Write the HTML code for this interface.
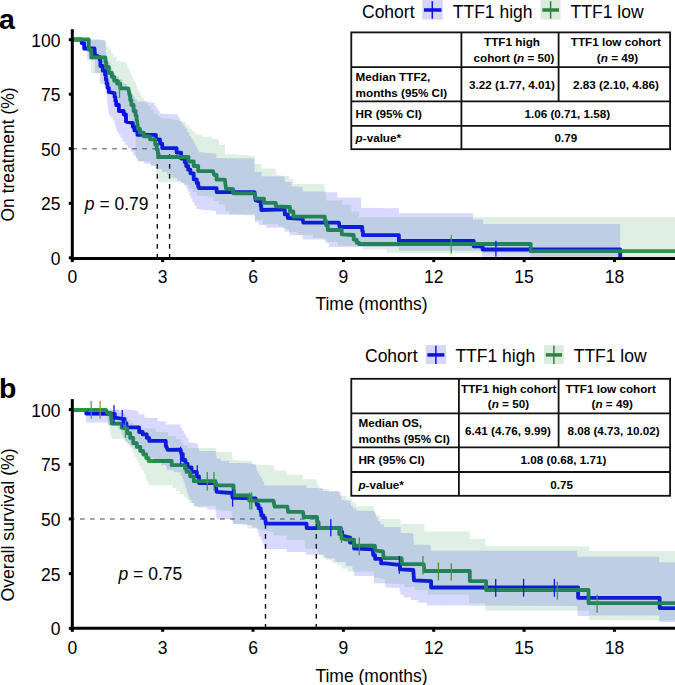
<!DOCTYPE html><html><head><meta charset="utf-8"><style>html,body{margin:0;padding:0;width:675px;height:685px;overflow:hidden;background:#fff}</style></head><body><svg width="675" height="685" viewBox="0 0 675 685" style="position:absolute;left:0;top:0" font-family="&quot;Liberation Sans&quot;, sans-serif">
<rect width="675" height="685" fill="#fff"/>
<line x1="72" y1="148.7" x2="169.6" y2="148.7" stroke="#888" stroke-width="1.4" stroke-dasharray="4.7,5.3" stroke-dashoffset="-0.2"/>
<line x1="157.3" y1="148.7" x2="157.3" y2="257.8" stroke="#111" stroke-width="1.4" stroke-dasharray="4.6,5.4" stroke-dashoffset="4.6"/>
<line x1="169.6" y1="148.7" x2="169.6" y2="257.8" stroke="#111" stroke-width="1.4" stroke-dasharray="4.6,5.4" stroke-dashoffset="4.6"/>
<polyline points="72.0,39.5 81.0,39.5 81.7,39.5 81.7,43.1 82.4,43.1 84.2,43.1 84.2,48.5 86.0,48.5 94.5,48.5 95.0,55.0 99.8,57.0 99.8,60.2 100.4,60.2 100.4,66.0 101.0,66.0 102.8,66.0 102.8,70.7 104.7,70.7 105.1,70.7 105.1,75.0 105.8,75.0 105.8,79.4 106.6,79.4 106.6,83.7 107.0,83.7 107.6,83.7 107.6,87.8 108.9,87.8 108.9,92.0 109.5,92.0 114.2,93.2 114.6,93.2 114.6,97.1 115.4,97.1 115.4,101.1 116.2,101.1 116.2,105.0 116.6,105.0 118.9,105.0 118.9,111.0 121.3,111.0 123.7,111.0 123.7,114.5 126.0,114.5 126.0,121.6 132.2,123.0 132.9,123.0 132.9,126.7 134.4,126.7 134.4,130.4 135.2,130.4 137.4,130.4 137.4,134.8 139.6,134.8 153.0,134.8 155.9,134.8 155.9,139.3 158.9,139.3 160.0,139.3 160.0,143.7 162.2,143.7 162.2,148.1 163.3,148.1 175.2,148.1 176.6,148.1 176.6,152.6 178.1,152.6 181.1,152.6 181.1,158.5 184.0,158.5 184.8,158.5 184.8,162.2 186.2,162.2 186.2,166.0 187.0,166.0 188.1,166.0 188.1,169.7 190.4,169.7 190.4,173.3 191.5,173.3 193.7,173.3 193.7,179.3 195.9,179.3 196.7,179.3 196.7,183.0 198.2,183.0 198.2,186.7 198.9,186.7 198.9,188.1 216.6,188.1 216.6,192.1 254.5,192.1 255.7,200.4 260.4,201.6 260.7,201.6 260.7,205.8 261.3,205.8 261.3,210.0 261.6,210.0 283.3,209.3 284.8,209.3 284.8,214.4 286.3,214.4 287.8,214.4 287.8,218.0 289.3,218.0 302.6,218.9 303.3,222.6 338.9,222.6 339.6,227.0 361.9,227.0 362.2,227.0 362.2,231.1 362.9,231.1 362.9,235.2 363.3,235.2 398.9,235.2 398.9,240.8 473.7,240.8 473.7,246.3 482.6,246.3 482.6,249.5 620.2,249.5 620.2,257.0" fill="none" stroke="#0a0af0" stroke-width="3.8" stroke-linejoin="round"/>
<polyline points="72.0,39.5 88.7,39.5 88.7,49.8 91.3,49.8 91.3,57.4 105.4,57.4 105.4,62.0 106.2,62.0 106.2,67.0 107.0,67.0 108.8,67.0 108.8,73.0 110.7,73.0 111.9,73.0 111.9,76.8 114.2,76.8 114.2,80.7 115.4,80.7 117.2,80.7 117.2,83.7 119.0,83.7 120.2,83.7 120.2,88.4 121.3,88.4 128.4,88.4 129.6,95.5 130.2,95.5 130.2,100.2 131.4,100.2 131.4,105.0 132.0,105.0 133.6,105.0 133.6,111.0 135.2,111.0 135.6,111.0 135.6,115.5 136.6,115.5 136.6,120.0 137.0,120.0 138.1,128.9 140.0,128.9 140.0,132.6 143.7,132.6 143.7,136.3 145.6,136.3 150.0,136.3 150.0,139.3 154.4,139.3 155.2,139.3 155.2,144.4 156.7,144.4 156.7,149.6 157.4,149.6 157.8,149.6 157.8,153.3 158.5,153.3 158.5,157.0 158.9,157.0 187.0,157.0 188.5,157.0 188.5,161.5 190.0,161.5 193.7,161.5 193.7,166.0 197.4,166.0 198.2,166.0 198.2,171.1 198.9,171.1 213.0,171.1 214.2,175.0 216.6,175.0 216.6,179.7 219.0,179.7 224.9,179.7 226.0,188.6 233.2,189.2 233.2,193.3 254.5,193.3 255.7,198.6 264.0,198.6 264.0,202.8 275.8,202.8 276.0,206.3 289.3,207.0 290.0,207.0 290.0,211.5 290.7,211.5 293.4,211.5 293.4,216.7 296.0,216.7 324.0,216.7 324.8,216.7 324.8,221.0 325.5,221.0 326.2,221.0 326.2,225.5 327.8,225.5 327.8,230.0 328.5,230.0 341.0,230.0 341.8,230.0 341.8,234.4 342.6,234.4 353.0,235.0 353.7,235.0 353.7,239.6 354.4,239.6 356.6,239.6 356.6,242.6 358.9,242.6 358.9,244.0 530.7,244.0 530.7,251.2 675.0,251.2" fill="none" stroke="#2a9640" stroke-width="3.8" stroke-linejoin="round"/>
<polygon points="82.0,39.5 100.0,39.8 105.2,40.2 106.2,56.5 106.9,56.5 106.9,59.2 108.2,59.2 108.2,62.0 109.6,62.0 109.6,64.7 110.3,64.7 110.9,64.7 110.9,67.5 112.2,67.5 112.2,70.3 113.5,70.3 113.5,73.1 114.8,73.1 114.8,75.9 115.4,75.9 118.5,75.9 118.5,79.0 121.6,79.0 122.6,83.0 125.7,84.1 127.0,84.1 127.0,87.7 129.5,87.7 129.5,91.2 130.8,91.2 131.6,91.2 131.6,93.8 133.1,93.8 133.1,96.3 133.9,96.3 134.9,96.3 134.9,98.9 137.0,98.9 137.0,101.5 138.0,101.5 146.0,101.6 153.4,102.8 154.6,102.8 154.6,105.7 155.8,105.7 156.6,105.7 156.6,108.3 158.2,108.3 158.2,110.8 159.7,110.8 159.7,113.4 160.5,113.4 177.1,114.6 178.0,114.6 178.0,117.5 179.8,117.5 179.8,120.5 180.7,120.5 181.6,120.5 181.6,123.2 183.3,123.2 183.3,125.8 185.1,125.8 185.1,128.5 186.0,128.5 187.1,128.5 187.1,132.2 189.3,132.2 189.3,135.9 190.4,135.9 191.1,135.9 191.1,138.2 192.6,138.2 192.6,140.4 193.3,140.4 194.1,140.4 194.1,143.4 195.6,143.4 195.6,146.3 196.3,146.3 197.1,146.3 197.1,149.2 198.6,149.2 198.6,152.2 199.3,152.2 215.6,153.7 216.3,153.7 216.3,158.1 217.0,158.1 254.5,158.4 254.5,172.0 261.6,172.0 261.6,176.3 284.8,176.3 284.8,181.9 289.3,181.9 291.5,181.9 291.5,186.3 293.7,186.3 302.6,187.0 302.6,191.5 323.3,191.5 326.3,192.2 337.4,192.2 337.4,197.4 361.0,197.4 361.0,207.8 398.9,208.2 398.9,213.3 473.0,213.3 473.0,219.6 483.0,219.6 483.0,224.0 620.2,224.0 620.2,256.7 482.0,256.7 482.0,250.7 398.9,250.7 398.9,247.0 330.0,247.0 328.9,247.0 328.9,243.3 326.6,243.3 326.6,239.6 325.5,239.6 302.6,239.6 302.6,235.2 289.3,235.2 289.3,231.5 284.8,231.5 284.8,227.8 270.0,227.8 266.2,227.8 266.2,224.9 258.8,224.9 258.8,222.0 255.0,222.0 255.0,214.6 216.0,214.6 216.0,211.0 210.0,210.4 197.4,208.9 196.4,208.9 196.4,205.4 194.4,205.4 194.4,202.0 192.5,202.0 192.5,198.5 191.5,198.5 190.8,198.5 190.8,195.2 189.3,195.2 189.3,191.8 187.8,191.8 187.8,188.5 186.3,188.5 186.3,185.2 185.6,185.2 184.1,185.2 184.1,182.9 181.1,182.9 181.1,180.7 179.6,180.7 177.0,180.7 177.0,177.8 171.9,177.8 171.9,174.8 169.3,174.8 166.8,174.8 166.8,171.9 161.9,171.9 161.9,168.9 156.9,168.9 156.9,166.0 154.4,166.0 151.1,166.0 151.1,163.8 144.4,163.8 144.4,161.5 141.1,161.5 138.7,161.3 137.7,161.3 137.7,158.2 135.7,158.2 135.7,155.2 134.7,155.2 133.3,155.2 133.3,151.8 130.6,151.8 130.6,148.4 127.9,148.4 127.9,145.0 126.5,145.0 125.2,145.0 125.2,141.4 122.7,141.4 122.7,137.8 121.4,137.8 120.5,137.8 120.5,135.1 118.8,135.1 118.8,132.4 117.1,132.4 117.1,129.7 116.2,129.7 115.9,129.7 115.9,126.6 115.2,126.6 115.2,123.5 114.5,123.5 114.5,120.4 114.2,120.4 112.9,120.4 112.9,117.8 110.4,117.8 110.4,115.3 109.1,115.3 108.9,115.3 108.9,112.5 108.5,112.5 108.5,109.7 108.1,109.7 108.1,106.8 107.7,106.8 107.7,104.0 107.5,104.0 107.0,98.1 106.0,92.3 105.7,92.3 105.7,89.5 105.0,89.5 105.0,86.8 104.3,86.8 104.3,84.0 104.0,84.0 99.9,83.5 99.9,73.0 95.0,73.0 95.0,59.9 87.2,59.9 87.2,51.1 82.8,51.1 82.8,44.0 82.0,39.5" fill="#0000ff" fill-opacity="0.15"/>
<polygon points="88.7,39.5 99.6,39.6 105.5,41.0 105.9,41.0 105.9,43.6 106.6,43.6 106.6,46.3 107.0,46.3 108.5,46.3 108.5,49.3 110.0,49.3 111.1,49.3 111.1,53.0 113.3,53.0 113.3,56.7 114.4,56.7 116.7,56.7 116.7,61.0 118.9,61.0 126.3,62.6 127.0,62.6 127.0,67.0 127.8,67.0 128.5,67.0 128.5,70.0 130.0,70.0 130.0,73.0 130.7,73.0 131.4,73.0 131.4,76.0 132.9,76.0 132.9,78.9 134.4,78.9 134.4,81.9 135.2,81.9 135.9,81.9 135.9,85.6 137.3,85.6 137.3,89.3 138.0,89.3 138.8,89.3 138.8,92.2 140.2,92.2 140.2,95.0 141.0,95.0 142.0,95.0 142.0,98.0 144.0,98.0 144.0,100.9 145.0,100.9 146.0,100.9 146.0,103.5 148.0,103.5 148.0,106.0 149.0,106.0 150.7,106.0 150.7,109.7 154.1,109.7 154.1,113.4 155.8,113.4 157.4,113.4 157.4,115.7 160.6,115.7 160.6,118.0 162.2,118.0 177.0,120.0 180.0,121.1 184.4,121.9 185.9,121.9 185.9,125.6 187.4,125.6 188.9,125.6 188.9,128.5 191.9,128.5 191.9,131.5 194.8,131.5 194.8,134.4 196.3,134.4 201.5,134.4 201.5,136.7 211.8,136.7 211.8,138.9 217.0,138.9 219.0,140.0 219.0,144.7 224.9,144.7 224.9,154.2 232.6,154.2 254.5,156.0 254.5,163.7 261.6,163.7 261.6,168.4 275.8,168.4 275.8,174.4 284.8,176.0 289.2,176.0 289.2,178.9 293.7,178.9 293.7,184.0 323.3,184.0 323.9,184.0 323.9,186.7 324.9,186.7 324.9,189.3 325.5,189.3 326.0,200.4 342.6,200.4 342.6,204.8 351.5,204.8 351.5,211.5 358.9,211.5 358.9,217.2 675.0,217.2 675.0,257.0 530.7,257.0 530.7,253.0 398.9,253.0 386.9,253.0 386.9,249.5 375.0,249.5 362.6,249.5 362.6,245.8 337.9,245.8 337.9,242.0 325.5,242.0 324.4,242.0 324.4,238.0 323.3,238.0 313.0,238.0 313.0,235.0 302.6,235.0 298.2,235.0 298.2,232.0 289.2,232.0 289.2,229.0 284.8,229.0 282.6,229.0 282.6,226.5 278.2,226.5 278.2,224.0 276.0,224.0 270.0,224.0 262.5,224.0 262.5,220.0 255.0,220.0 255.0,215.8 233.0,214.6 229.2,214.6 229.2,211.0 225.5,211.0 225.5,204.6 219.0,204.6 219.0,201.0 213.0,201.0 213.0,196.9 210.0,197.0 198.9,195.6 196.9,195.6 196.9,192.1 192.9,192.1 192.9,188.7 189.0,188.7 189.0,185.2 187.0,185.2 185.0,184.0 179.6,182.2 158.9,182.2 158.5,182.2 158.5,179.2 157.8,179.2 157.8,176.3 157.4,176.3 157.1,176.3 157.1,173.6 156.4,173.6 156.4,170.9 155.8,170.9 155.8,168.3 155.1,168.3 155.1,165.6 154.8,165.6 150.4,165.6 150.4,161.5 146.0,161.5 138.7,161.3 137.9,161.3 137.9,158.2 136.4,158.2 136.4,155.2 135.7,155.2 135.7,133.7 135.3,133.7 135.3,130.9 134.5,130.9 134.5,128.1 133.8,128.1 133.8,125.3 133.0,125.3 133.0,122.5 132.6,122.5 131.4,122.5 131.4,119.4 129.1,119.4 129.1,116.4 126.7,116.4 126.7,113.3 125.5,113.3 124.6,113.3 124.6,110.0 122.8,110.0 122.8,106.7 121.0,106.7 121.0,103.3 119.2,103.3 119.2,100.0 118.3,100.0 115.4,98.0 114.4,98.0 114.4,95.2 112.5,95.2 112.5,92.3 111.5,92.3 109.8,92.3 109.8,88.0 108.0,88.0 107.1,88.0 107.1,85.8 105.2,85.8 105.2,83.5 104.3,83.5 104.3,73.5 91.1,73.0 91.1,59.9 90.7,59.9 90.7,56.9 89.9,56.9 89.9,54.0 89.1,54.0 89.1,51.0 88.7,51.0 88.7,39.5" fill="#2a9640" fill-opacity="0.15"/>
<line x1="119.5" y1="80" x2="119.5" y2="98" stroke="#3a9a3a" stroke-width="1.3"/>
<line x1="451.2" y1="235.2" x2="451.2" y2="253.7" stroke="#3a9a3a" stroke-width="1.3"/>
<line x1="495.9" y1="240.8" x2="495.9" y2="256.7" stroke="#1414f0" stroke-width="1.3"/>
<line x1="72.3" y1="29.200000000000003" x2="72.3" y2="259.3" stroke="#000" stroke-width="3"/>
<line x1="70.8" y1="258.6" x2="675" y2="258.6" stroke="#000" stroke-width="3"/>
<line x1="68.8" y1="257.8" x2="72.3" y2="257.8" stroke="#000" stroke-width="3"/>
<text x="60.5" y="264.90000000000003" font-size="17.5" text-anchor="end">0</text>
<line x1="68.8" y1="203.275" x2="72.3" y2="203.275" stroke="#000" stroke-width="3"/>
<text x="60.5" y="210.375" font-size="17.5" text-anchor="end">25</text>
<line x1="68.8" y1="148.75" x2="72.3" y2="148.75" stroke="#000" stroke-width="3"/>
<text x="60.5" y="155.85" font-size="17.5" text-anchor="end">50</text>
<line x1="68.8" y1="94.225" x2="72.3" y2="94.225" stroke="#000" stroke-width="3"/>
<text x="60.5" y="101.32499999999999" font-size="17.5" text-anchor="end">75</text>
<line x1="68.8" y1="39.70000000000002" x2="72.3" y2="39.70000000000002" stroke="#000" stroke-width="3"/>
<text x="60.5" y="46.80000000000002" font-size="17.5" text-anchor="end">100</text>
<line x1="72.3" y1="258.6" x2="72.3" y2="262.1" stroke="#000" stroke-width="3"/>
<text x="72.3" y="283.3" font-size="17.5" text-anchor="middle">0</text>
<line x1="162.66" y1="258.6" x2="162.66" y2="262.1" stroke="#000" stroke-width="3"/>
<text x="162.66" y="283.3" font-size="17.5" text-anchor="middle">3</text>
<line x1="253.01999999999998" y1="258.6" x2="253.01999999999998" y2="262.1" stroke="#000" stroke-width="3"/>
<text x="253.01999999999998" y="283.3" font-size="17.5" text-anchor="middle">6</text>
<line x1="343.38" y1="258.6" x2="343.38" y2="262.1" stroke="#000" stroke-width="3"/>
<text x="343.38" y="283.3" font-size="17.5" text-anchor="middle">9</text>
<line x1="433.74" y1="258.6" x2="433.74" y2="262.1" stroke="#000" stroke-width="3"/>
<text x="433.74" y="283.3" font-size="17.5" text-anchor="middle">12</text>
<line x1="524.1" y1="258.6" x2="524.1" y2="262.1" stroke="#000" stroke-width="3"/>
<text x="524.1" y="283.3" font-size="17.5" text-anchor="middle">15</text>
<line x1="614.4599999999999" y1="258.6" x2="614.4599999999999" y2="262.1" stroke="#000" stroke-width="3"/>
<text x="614.4599999999999" y="283.3" font-size="17.5" text-anchor="middle">18</text>
<text x="371.5" y="310.3" font-size="17.5" text-anchor="middle">Time (months)</text>
<text transform="translate(13.8,154.45) rotate(-90)" font-size="17.5" text-anchor="middle">On treatment (%)</text>
<text x="-1" y="29.4" font-size="28.5" font-weight="bold">a</text>
<text x="84.8" y="210.3" font-size="17.5"><tspan font-style="italic">p</tspan> = 0.79</text>
<text x="362" y="18.1" font-size="17.5">Cohort</text>
<rect x="422.3" y="0" width="20.5" height="19.6" fill="#d6d6f8"/>
<line x1="424" y1="10" x2="441.5" y2="10" stroke="#1010e0" stroke-width="3.5"/>
<line x1="432.3" y1="1.2" x2="432.3" y2="18.8" stroke="#1010e0" stroke-width="1.5"/>
<text x="452.8" y="18.1" font-size="17.5">TTF1 high</text>
<rect x="540.6" y="0" width="20" height="19.6" fill="#dcebdc"/>
<line x1="542.3" y1="10" x2="559" y2="10" stroke="#2e8540" stroke-width="3.5"/>
<line x1="550.6" y1="1.2" x2="550.6" y2="18.8" stroke="#2e8540" stroke-width="1.5"/>
<text x="570.6" y="18.1" font-size="17.5">TTF1 low</text>
<rect x="351.3" y="32.4" width="318.8" height="116.79999999999998" fill="none" stroke="#111" stroke-width="1.8"/>
<line x1="351.3" y1="67.2" x2="670.1" y2="67.2" stroke="#111" stroke-width="1.8"/>
<line x1="351.3" y1="101.3" x2="670.1" y2="101.3" stroke="#111" stroke-width="1.8"/>
<line x1="351.3" y1="125.8" x2="670.1" y2="125.8" stroke="#111" stroke-width="1.8"/>
<line x1="461.4" y1="32.4" x2="461.4" y2="149.2" stroke="#111" stroke-width="1.8"/>
<line x1="558.6" y1="32.4" x2="558.6" y2="101.3" stroke="#111" stroke-width="1.8"/>
<text x="512.0" y="46.2" font-size="11.7" font-weight="bold" text-anchor="middle">TTF1 high</text>
<text x="514.0" y="62.3" font-size="11.7" font-weight="bold" text-anchor="middle">cohort (<tspan font-style="italic">n</tspan> = 50)</text>
<text x="615.9" y="46.2" font-size="11.7" font-weight="bold" text-anchor="middle">TTF1 low cohort</text>
<text x="617.5" y="62.3" font-size="11.7" font-weight="bold" text-anchor="middle">(<tspan font-style="italic">n</tspan> = 49)</text>
<text x="355.6" y="81.3" font-size="11.7" font-weight="bold" text-anchor="start">Median TTF2,</text>
<text x="355.6" y="96.8" font-size="11.7" font-weight="bold" text-anchor="start">months (95% CI)</text>
<text x="512.0" y="89.0" font-size="11.7" font-weight="bold" text-anchor="middle">3.22 (1.77, 4.01)</text>
<text x="615.9" y="89.0" font-size="11.7" font-weight="bold" text-anchor="middle">2.83 (2.10, 4.86)</text>
<text x="355.6" y="117.9" font-size="11.7" font-weight="bold" text-anchor="start">HR (95% CI)</text>
<text x="567.3" y="117.9" font-size="11.7" font-weight="bold" text-anchor="middle">1.06 (0.71, 1.58)</text>
<text x="355.6" y="142.2" font-size="11.7" font-weight="bold" text-anchor="start"><tspan font-style="italic">p</tspan>-value*</text>
<text x="565.8" y="142.2" font-size="11.7" font-weight="bold" text-anchor="middle">0.79</text>
<line x1="72" y1="519.0" x2="316.3" y2="519.0" stroke="#888" stroke-width="1.4" stroke-dasharray="4.7,5.3" stroke-dashoffset="2"/>
<line x1="265.5" y1="519.0" x2="265.5" y2="628.3" stroke="#111" stroke-width="1.4" stroke-dasharray="4.6,5.4" stroke-dashoffset="4.9"/>
<line x1="316.3" y1="519.0" x2="316.3" y2="628.3" stroke="#111" stroke-width="1.4" stroke-dasharray="4.6,5.4" stroke-dashoffset="4.9"/>
<polyline points="72.0,409.8 86.0,409.8 86.3,413.5 113.0,413.8 114.8,413.8 114.8,417.8 116.6,417.8 123.7,419.0 124.6,419.0 124.6,423.1 126.4,423.1 126.4,427.3 127.3,427.3 137.9,427.3 139.1,427.3 139.1,432.0 140.3,432.0 142.7,432.0 142.7,434.4 145.0,434.4 146.8,434.4 146.8,437.9 148.6,437.9 149.2,437.9 149.2,440.9 149.8,440.9 165.2,440.9 165.8,440.9 165.8,446.2 166.4,446.2 167.5,449.8 180.6,449.6 181.3,454.0 182.8,454.0 182.8,460.0 184.3,460.0 185.4,460.0 185.4,463.7 187.6,463.7 187.6,467.4 188.7,467.4 191.6,467.4 191.6,471.9 194.6,471.9 196.8,471.9 196.8,476.3 199.0,476.3 199.0,483.0 215.4,483.0 216.6,491.8 232.0,493.0 232.6,497.8 255.7,498.4 256.9,504.9 258.6,504.9 258.6,508.4 260.4,508.4 260.7,508.4 260.7,511.9 261.3,511.9 261.3,515.5 261.6,515.5 263.4,515.5 263.4,517.9 265.2,517.9 265.8,523.7 305.9,523.7 306.6,523.7 306.6,528.1 307.4,528.1 340.0,528.1 340.8,528.1 340.8,532.0 342.2,532.0 342.2,535.9 343.0,535.9 348.9,537.4 350.0,537.4 350.0,542.6 351.1,542.6 354.1,542.6 354.1,548.5 357.0,548.5 372.6,549.3 373.3,555.2 375.1,555.2 375.1,558.9 377.0,558.9 381.1,558.9 381.1,563.3 385.2,563.3 399.3,564.8 400.0,564.8 400.0,569.3 400.7,569.3 413.3,570.0 414.0,580.4 430.4,581.1 431.1,581.1 431.1,587.5 431.9,587.5 578.1,587.5 578.1,597.8 659.7,597.8 659.7,608.1 675.0,608.1" fill="none" stroke="#0a0af0" stroke-width="3.8" stroke-linejoin="round"/>
<polyline points="72.0,409.8 106.0,409.8 107.1,413.0 110.7,413.0 111.8,423.7 121.3,423.7 121.9,423.7 121.9,427.8 122.5,427.8 126.1,428.4 127.2,428.4 127.2,433.2 128.4,433.2 130.2,433.2 130.2,437.9 132.0,437.9 133.2,437.9 133.2,443.2 134.4,443.2 136.8,443.2 136.8,446.8 139.1,446.8 140.3,446.8 140.3,451.0 141.5,451.0 143.2,451.0 143.2,454.5 145.0,454.5 146.2,454.5 146.2,458.1 147.4,458.1 148.6,458.1 148.6,461.0 149.8,461.0 171.1,461.0 171.7,461.0 171.7,465.2 172.3,465.2 184.3,465.2 185.0,465.2 185.0,468.5 186.5,468.5 186.5,471.9 187.2,471.9 190.1,471.9 190.1,476.3 193.1,476.3 193.8,476.3 193.8,481.2 194.6,481.2 215.4,481.2 216.6,485.3 233.2,485.3 233.5,485.3 233.5,490.4 234.1,490.4 234.1,495.4 234.4,495.4 248.6,495.4 249.2,495.4 249.2,500.7 249.8,500.7 273.5,500.7 274.6,506.7 287.4,506.7 288.1,511.9 303.0,511.9 303.7,517.0 316.3,517.0 317.1,517.0 317.1,522.2 317.8,522.2 318.6,522.2 318.6,528.1 319.3,528.1 338.5,528.1 339.2,528.1 339.2,534.0 340.0,534.0 341.5,534.0 341.5,538.5 343.0,538.5 345.9,539.6 353.3,539.6 354.1,539.6 354.1,545.6 354.8,545.6 374.8,545.6 375.6,550.7 383.0,551.5 383.7,558.1 401.5,558.1 402.2,564.1 423.7,564.1 424.4,571.0 469.8,571.0 469.8,581.1 486.1,581.1 486.1,590.0 588.5,590.0 588.5,603.1 675.0,603.1" fill="none" stroke="#2a9640" stroke-width="3.8" stroke-linejoin="round"/>
<polygon points="86.0,409.8 107.1,409.5 127.3,409.5 137.9,410.7 139.1,414.2 144.4,414.2 144.4,417.8 149.8,417.8 157.5,417.8 157.5,421.3 165.2,421.3 165.8,421.3 165.8,424.4 166.4,424.4 179.8,424.4 180.6,424.4 180.6,427.4 182.1,427.4 182.1,430.4 182.8,430.4 183.9,430.4 183.9,434.1 186.1,434.1 186.1,437.8 187.2,437.8 188.7,437.8 188.7,442.2 190.2,442.2 197.6,443.7 198.3,443.7 198.3,448.1 199.0,448.1 199.0,451.1 215.4,451.1 215.8,451.1 215.8,454.8 216.5,454.8 216.5,458.5 216.9,458.5 220.9,458.5 220.9,460.8 229.1,460.8 229.1,463.0 233.1,463.0 248.0,463.0 255.4,464.4 255.8,464.4 255.8,467.4 256.5,467.4 256.5,470.4 256.9,470.4 257.6,470.4 257.6,472.9 259.1,472.9 259.1,475.5 260.6,475.5 260.6,478.0 261.3,478.0 262.3,478.0 262.3,481.6 264.2,481.6 264.2,485.2 265.2,485.2 305.9,485.2 307.0,488.0 322.8,488.0 322.8,491.1 338.5,491.1 338.9,491.1 338.9,493.4 339.6,493.4 339.6,495.6 340.0,495.6 341.5,495.6 341.5,500.0 343.0,500.0 350.4,501.0 351.1,505.9 352.8,505.9 352.8,508.3 356.1,508.3 356.1,510.7 357.8,510.7 374.0,510.7 374.8,510.7 374.8,514.2 376.2,514.2 376.2,517.6 377.8,517.6 377.8,521.1 378.5,521.1 380.4,521.1 380.4,524.0 384.0,524.0 384.0,527.0 385.9,527.0 400.7,527.0 400.7,533.0 413.3,533.0 414.0,544.8 430.4,544.8 431.1,550.7 577.4,550.7 577.4,556.7 659.2,556.7 659.2,562.2 675.0,562.2 675.0,622.0 659.2,622.0 659.2,615.5 589.0,615.5 589.0,616.0 577.4,616.0 577.4,606.0 431.0,605.6 426.8,605.6 426.8,602.8 418.2,602.8 418.2,600.0 414.0,600.0 410.7,600.0 410.7,597.5 404.0,597.5 404.0,595.0 400.7,595.0 400.4,595.0 400.4,591.4 399.6,591.4 399.6,587.8 399.3,587.8 385.9,587.8 385.5,587.8 385.5,585.5 384.8,585.5 384.8,583.3 384.4,583.3 374.0,583.3 374.0,575.9 354.8,575.9 354.3,575.9 354.3,572.6 353.4,572.6 353.4,569.3 352.4,569.3 352.4,566.0 351.9,566.0 345.9,566.0 345.9,562.0 340.0,562.0 334.8,562.0 334.8,558.4 324.5,558.4 324.5,554.8 319.3,554.8 305.9,554.8 305.9,552.0 286.7,552.0 286.7,549.0 265.2,549.0 264.7,549.0 264.7,546.0 263.6,546.0 263.6,543.0 262.5,543.0 262.5,540.0 262.0,540.0 261.0,540.0 261.0,536.5 259.0,536.5 259.0,533.0 258.0,533.0 256.9,527.4 252.1,527.4 252.1,525.0 247.4,525.0 233.2,523.8 232.0,519.0 216.6,519.0 215.4,509.6 207.2,509.6 207.2,507.4 199.0,507.4 194.6,505.9 193.6,505.9 193.6,502.9 191.6,502.9 191.6,500.0 189.7,500.0 189.7,497.0 188.7,497.0 188.3,497.0 188.3,494.0 187.4,494.0 187.4,491.1 186.5,491.1 186.5,488.1 185.6,488.1 185.6,485.2 184.7,485.2 184.7,482.2 184.3,482.2 183.6,482.2 183.6,478.9 182.2,478.9 182.2,475.6 180.7,475.6 180.7,472.3 180.0,472.3 173.8,472.3 173.8,469.9 167.5,469.9 166.9,469.9 166.9,467.5 165.8,467.5 165.8,465.2 165.2,465.2 161.4,465.2 161.4,461.6 153.8,461.6 153.8,458.0 150.0,458.0 147.5,458.0 147.5,455.0 142.5,455.0 142.5,452.0 140.0,452.0 138.1,452.0 138.1,449.3 134.2,449.3 134.2,446.5 130.3,446.5 130.3,443.8 128.4,443.8 127.2,443.8 127.2,440.9 124.9,440.9 124.9,437.9 123.7,437.9 123.3,437.9 123.3,435.1 122.5,435.1 122.5,432.4 121.7,432.4 121.7,429.6 121.3,429.6 118.3,429.6 118.3,426.0 115.4,426.0 110.0,425.0 107.8,425.0 107.8,422.4 105.5,422.4 86.0,422.4 86.0,409.8" fill="#0000ff" fill-opacity="0.15"/>
<polygon points="106.0,409.8 113.0,410.0 118.5,410.0 118.5,413.0 124.0,413.0 125.1,413.0 125.1,416.6 127.3,416.6 127.3,420.1 128.4,420.1 130.2,420.1 130.2,422.5 133.7,422.5 133.7,424.9 135.5,424.9 141.4,424.9 141.4,428.4 147.4,428.4 155.7,428.4 155.7,431.9 164.0,431.9 168.2,431.9 168.2,436.3 172.4,436.3 176.1,436.3 176.1,439.3 179.8,439.3 180.9,439.3 180.9,442.2 183.2,442.2 183.2,445.2 184.3,445.2 188.0,445.2 188.0,448.1 191.7,448.1 215.4,448.1 216.2,448.1 216.2,451.9 216.9,451.9 231.7,451.9 231.9,451.9 231.9,454.6 232.4,454.6 232.4,457.3 232.9,457.3 232.9,460.0 233.1,460.0 248.0,460.7 252.4,460.7 252.4,464.4 256.9,464.4 274.1,465.2 274.1,470.4 286.7,470.4 286.7,474.8 303.0,474.8 303.0,479.3 316.3,479.3 316.7,479.3 316.7,482.2 317.4,482.2 317.4,485.2 317.8,485.2 318.9,485.2 318.9,489.0 320.0,489.0 329.2,489.0 329.2,492.0 338.5,492.0 340.8,492.0 340.8,496.0 343.0,496.0 346.7,496.0 346.7,498.9 350.4,498.9 352.2,498.9 352.2,502.6 355.9,502.6 355.9,506.3 357.8,506.3 374.0,506.3 374.0,512.2 375.9,512.2 375.9,515.5 379.6,515.5 379.6,518.9 381.5,518.9 400.7,518.9 400.7,524.1 424.4,524.1 424.4,531.5 469.8,531.5 469.8,538.9 485.4,538.9 485.4,546.3 589.3,546.3 589.3,551.0 675.0,551.0 675.0,620.4 589.0,620.0 589.0,610.7 485.4,610.7 485.4,603.3 469.0,603.3 469.0,594.4 435.0,594.4 427.5,594.4 427.5,590.0 420.0,590.0 414.8,590.0 414.8,587.0 404.5,587.0 404.5,584.0 399.3,584.0 385.9,583.3 385.1,583.3 385.1,578.9 384.4,578.9 374.0,577.4 374.0,571.5 351.9,571.5 347.4,571.5 347.4,568.5 343.0,568.5 341.5,568.5 341.5,565.6 340.0,565.6 337.4,565.6 337.4,562.9 332.2,562.9 332.2,560.2 327.1,560.2 327.1,557.5 321.9,557.5 321.9,554.8 319.3,554.8 318.6,554.8 318.6,551.8 317.1,551.8 317.1,548.9 316.3,548.9 305.2,548.9 304.4,540.0 286.7,540.0 286.7,535.6 274.1,535.6 273.3,532.0 262.0,530.0 256.9,528.6 247.4,528.6 247.4,523.8 233.2,523.8 233.0,523.8 233.0,520.6 232.6,520.6 232.6,517.4 232.3,517.4 232.3,514.2 231.9,514.2 231.9,511.0 231.7,511.0 216.9,510.0 216.2,510.0 216.2,506.0 215.4,506.0 199.0,505.9 194.6,505.9 194.6,503.0 190.2,503.0 189.1,503.0 189.1,500.0 186.8,500.0 186.8,497.0 185.7,497.0 183.8,497.0 183.8,494.1 180.2,494.1 180.2,491.1 176.4,491.1 176.4,488.1 172.8,488.1 172.8,485.2 170.9,485.2 150.0,485.0 149.1,485.0 149.1,482.5 147.1,482.5 147.1,480.0 146.2,480.0 145.0,473.5 143.8,473.5 143.8,469.9 141.5,469.9 141.5,466.4 140.3,466.4 139.5,466.4 139.5,463.2 137.9,463.2 137.9,460.1 136.3,460.1 136.3,456.9 135.5,456.9 134.8,456.9 134.8,453.9 133.3,453.9 133.3,450.9 131.8,450.9 131.8,448.0 130.3,448.0 130.3,445.0 129.6,445.0 128.1,445.0 128.1,442.0 125.2,442.0 125.2,439.0 123.7,439.0 111.8,439.0 111.5,439.0 111.5,436.1 110.8,436.1 110.8,433.2 110.2,433.2 110.2,430.3 109.5,430.3 109.5,427.4 108.9,427.4 108.9,424.6 108.3,424.6 108.3,421.7 107.6,421.7 107.6,418.8 107.0,418.8 107.0,415.9 106.3,415.9 106.3,413.0 106.0,413.0 106.0,409.8" fill="#2a9640" fill-opacity="0.15"/>
<line x1="91.2" y1="400.9" x2="91.2" y2="418.7" stroke="#35a08a" stroke-width="1.3"/>
<line x1="100.1" y1="400.9" x2="100.1" y2="418.7" stroke="#8a9a35" stroke-width="1.3"/>
<line x1="125.5" y1="420.7" x2="125.5" y2="437.9" stroke="#3a9a3a" stroke-width="1.3"/>
<line x1="207.3" y1="471.9" x2="207.3" y2="490.4" stroke="#3a9a3a" stroke-width="1.3"/>
<line x1="214" y1="471.9" x2="214" y2="490.4" stroke="#3a9a3a" stroke-width="1.3"/>
<line x1="249.8" y1="492.4" x2="249.8" y2="509.6" stroke="#3a9a3a" stroke-width="1.3"/>
<line x1="251.7" y1="492.4" x2="251.7" y2="509.6" stroke="#3a9a3a" stroke-width="1.3"/>
<line x1="341.5" y1="525.9" x2="341.5" y2="543" stroke="#3a9a3a" stroke-width="1.3"/>
<line x1="359.3" y1="537.4" x2="359.3" y2="555.2" stroke="#3a9a3a" stroke-width="1.3"/>
<line x1="423" y1="555.9" x2="423" y2="574.4" stroke="#3a9a3a" stroke-width="1.3"/>
<line x1="438.4" y1="562.6" x2="438.4" y2="580.4" stroke="#3a9a3a" stroke-width="1.3"/>
<line x1="451.3" y1="563.3" x2="451.3" y2="580.4" stroke="#3a9a3a" stroke-width="1.3"/>
<line x1="557.4" y1="581.9" x2="557.4" y2="599.6" stroke="#3a9a3a" stroke-width="1.3"/>
<line x1="597.1" y1="594.4" x2="597.1" y2="613" stroke="#3a9a3a" stroke-width="1.3"/>
<line x1="114" y1="405.3" x2="114" y2="423.1" stroke="#1414f0" stroke-width="1.3"/>
<line x1="122.3" y1="410" x2="122.3" y2="427.8" stroke="#1414f0" stroke-width="1.3"/>
<line x1="180.6" y1="446.7" x2="180.6" y2="464.4" stroke="#1414f0" stroke-width="1.3"/>
<line x1="197.3" y1="465.2" x2="197.3" y2="477.8" stroke="#1414f0" stroke-width="1.3"/>
<line x1="232.6" y1="489.5" x2="232.6" y2="506.7" stroke="#1414f0" stroke-width="1.3"/>
<line x1="330.8" y1="519.3" x2="330.8" y2="536.3" stroke="#1414f0" stroke-width="1.3"/>
<line x1="399.3" y1="555.9" x2="399.3" y2="573.7" stroke="#1414f0" stroke-width="1.3"/>
<line x1="495.7" y1="578.9" x2="495.7" y2="596.7" stroke="#1414f0" stroke-width="1.3"/>
<line x1="523.6" y1="578.9" x2="523.6" y2="596.7" stroke="#1414f0" stroke-width="1.3"/>
<line x1="554.4" y1="578.9" x2="554.4" y2="596.7" stroke="#1414f0" stroke-width="1.3"/>
<line x1="72.3" y1="399.1" x2="72.3" y2="629.8" stroke="#000" stroke-width="3"/>
<line x1="70.8" y1="628.3" x2="675" y2="628.3" stroke="#000" stroke-width="3"/>
<line x1="68.8" y1="628.3" x2="72.3" y2="628.3" stroke="#000" stroke-width="3"/>
<text x="60.5" y="635.4" font-size="17.5" text-anchor="end">0</text>
<line x1="68.8" y1="573.625" x2="72.3" y2="573.625" stroke="#000" stroke-width="3"/>
<text x="60.5" y="580.725" font-size="17.5" text-anchor="end">25</text>
<line x1="68.8" y1="518.95" x2="72.3" y2="518.95" stroke="#000" stroke-width="3"/>
<text x="60.5" y="526.0500000000001" font-size="17.5" text-anchor="end">50</text>
<line x1="68.8" y1="464.275" x2="72.3" y2="464.275" stroke="#000" stroke-width="3"/>
<text x="60.5" y="471.375" font-size="17.5" text-anchor="end">75</text>
<line x1="68.8" y1="409.6" x2="72.3" y2="409.6" stroke="#000" stroke-width="3"/>
<text x="60.5" y="416.70000000000005" font-size="17.5" text-anchor="end">100</text>
<line x1="72.3" y1="628.3" x2="72.3" y2="631.8" stroke="#000" stroke-width="3"/>
<text x="72.3" y="653.5" font-size="17.5" text-anchor="middle">0</text>
<line x1="162.66" y1="628.3" x2="162.66" y2="631.8" stroke="#000" stroke-width="3"/>
<text x="162.66" y="653.5" font-size="17.5" text-anchor="middle">3</text>
<line x1="253.01999999999998" y1="628.3" x2="253.01999999999998" y2="631.8" stroke="#000" stroke-width="3"/>
<text x="253.01999999999998" y="653.5" font-size="17.5" text-anchor="middle">6</text>
<line x1="343.38" y1="628.3" x2="343.38" y2="631.8" stroke="#000" stroke-width="3"/>
<text x="343.38" y="653.5" font-size="17.5" text-anchor="middle">9</text>
<line x1="433.74" y1="628.3" x2="433.74" y2="631.8" stroke="#000" stroke-width="3"/>
<text x="433.74" y="653.5" font-size="17.5" text-anchor="middle">12</text>
<line x1="524.1" y1="628.3" x2="524.1" y2="631.8" stroke="#000" stroke-width="3"/>
<text x="524.1" y="653.5" font-size="17.5" text-anchor="middle">15</text>
<line x1="614.4599999999999" y1="628.3" x2="614.4599999999999" y2="631.8" stroke="#000" stroke-width="3"/>
<text x="614.4599999999999" y="653.5" font-size="17.5" text-anchor="middle">18</text>
<text x="371.5" y="682.4" font-size="17.5" text-anchor="middle">Time (months)</text>
<text transform="translate(13.8,524.95) rotate(-90)" font-size="17.7" text-anchor="middle">Overall survival (%)</text>
<text x="-1" y="398.3" font-size="28.5" font-weight="bold">b</text>
<text x="118.5" y="580.3" font-size="17.5"><tspan font-style="italic">p</tspan> = 0.75</text>
<text x="365" y="361.8" font-size="17.5">Cohort</text>
<rect x="425.7" y="345.1" width="20.4" height="19" fill="#d6d6f8"/>
<line x1="427.4" y1="354.9" x2="444.4" y2="354.9" stroke="#1010e0" stroke-width="3.5"/>
<line x1="435.9" y1="345.8" x2="435.9" y2="364" stroke="#1010e0" stroke-width="1.5"/>
<text x="455.4" y="361.8" font-size="17.5">TTF1 high</text>
<rect x="544.1" y="345.1" width="19.7" height="19.1" fill="#dcebdc"/>
<line x1="545.8" y1="354.9" x2="562.1" y2="354.9" stroke="#2e8540" stroke-width="3.5"/>
<line x1="553.9" y1="345.8" x2="553.9" y2="364" stroke="#2e8540" stroke-width="1.5"/>
<text x="573.7" y="361.8" font-size="17.5">TTF1 low</text>
<rect x="351.3" y="378.8" width="318.8" height="117.0" fill="none" stroke="#111" stroke-width="1.8"/>
<line x1="351.3" y1="413.3" x2="670.1" y2="413.3" stroke="#111" stroke-width="1.8"/>
<line x1="351.3" y1="447.3" x2="670.1" y2="447.3" stroke="#111" stroke-width="1.8"/>
<line x1="351.3" y1="472" x2="670.1" y2="472" stroke="#111" stroke-width="1.8"/>
<line x1="458.9" y1="378.8" x2="458.9" y2="495.8" stroke="#111" stroke-width="1.8"/>
<line x1="558.6" y1="378.8" x2="558.6" y2="447.3" stroke="#111" stroke-width="1.8"/>
<text x="508.75" y="392.8" font-size="11.7" font-weight="bold" text-anchor="middle">TTF1 high cohort</text>
<text x="508.4" y="408.4" font-size="11.7" font-weight="bold" text-anchor="middle">(<tspan font-style="italic">n</tspan> = 50)</text>
<text x="610.7" y="392.8" font-size="11.7" font-weight="bold" text-anchor="middle">TTF1 low cohort</text>
<text x="612.2" y="408.4" font-size="11.7" font-weight="bold" text-anchor="middle">(<tspan font-style="italic">n</tspan> = 49)</text>
<text x="358.4" y="427.0" font-size="11.7" font-weight="bold" text-anchor="start">Median OS,</text>
<text x="358.4" y="442.8" font-size="11.7" font-weight="bold" text-anchor="start">months (95% CI)</text>
<text x="508.0" y="435.3" font-size="11.7" font-weight="bold" text-anchor="middle">6.41 (4.76, 9.99)</text>
<text x="613.6" y="435.3" font-size="11.7" font-weight="bold" text-anchor="middle">8.08 (4.73, 10.02)</text>
<text x="358.4" y="464.3" font-size="11.7" font-weight="bold" text-anchor="start">HR (95% CI)</text>
<text x="563.4" y="463.8" font-size="11.7" font-weight="bold" text-anchor="middle">1.08 (0.68, 1.71)</text>
<text x="358.4" y="488.6" font-size="11.7" font-weight="bold" text-anchor="start"><tspan font-style="italic">p</tspan>-value*</text>
<text x="561.6" y="488.9" font-size="11.7" font-weight="bold" text-anchor="middle">0.75</text>
</svg></body></html>
